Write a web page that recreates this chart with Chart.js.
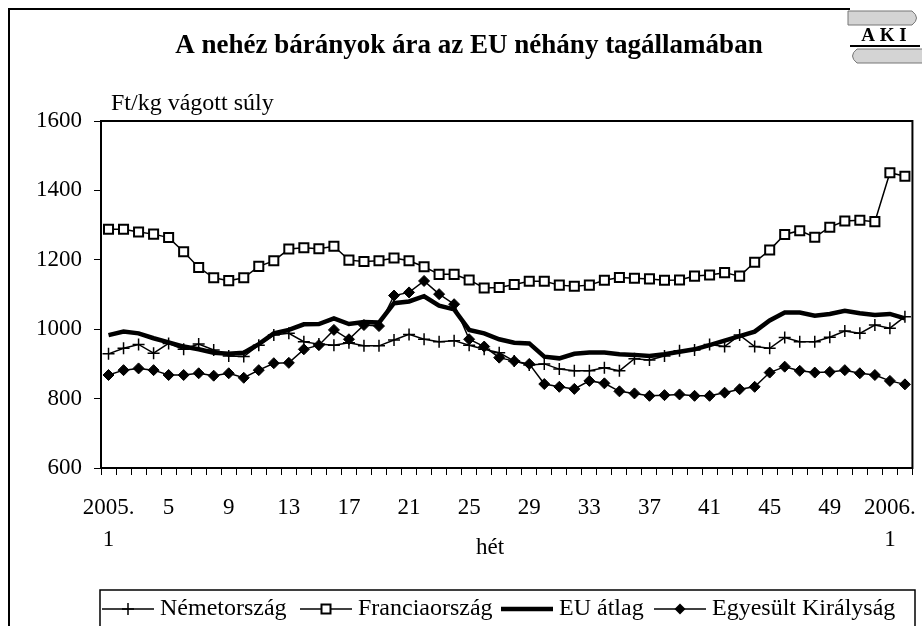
<!DOCTYPE html>
<html><head><meta charset="utf-8">
<script src="https://cdn.jsdelivr.net/npm/chart.js@4.4.0/dist/chart.umd.min.js"></script>
<style>html,body{margin:0;padding:0;background:#fff;}canvas{display:block;}</style>
</head><body>
<canvas id="c" width="922" height="626"></canvas>
<script>
const weeks = ['2005. 1','2','3','4','5','6','7','8','9','10','11','12','13','14','15','16','17','18','19','20',
  '21','22','23','24','25','26','27','28','29','30','31','32','33','34','35','36','37','38','39','40',
  '41','42','43','44','45','46','47','48','49','50','51','52','2006. 1','2'];
const nemetorszag = [929,945,956,931,959,942,957,940,923,921,954,983,988,964,957,954,961,952,952,969,
  985,971,964,967,954,942,932,908,897,900,885,880,880,889,880,915,911,923,938,940,
  956,950,983,950,945,976,964,964,977,995,988,1012,1003,1036];
const franciaorszag = [1288,1288,1280,1274,1264,1223,1178,1148,1140,1148,1181,1197,1231,1235,1232,1239,1199,1195,1197,1205,
  1197,1180,1158,1158,1142,1119,1120,1129,1138,1138,1127,1124,1127,1141,1149,1147,1145,1141,1142,1153,
  1156,1163,1153,1193,1228,1273,1284,1265,1294,1312,1314,1310,1451,1441];
const euAtlag = [983,993,988,974,962,950,942,932,929,932,957,988,998,1014,1015,1031,1015,1021,1019,1075,
  1080,1095,1068,1057,998,988,971,961,959,921,916,929,933,933,928,926,923,928,935,942,
  954,967,980,993,1025,1048,1048,1039,1044,1053,1046,1041,1044,1031];
const egyesultKiralysag = [868,882,887,882,868,868,873,866,873,860,882,902,903,942,954,998,971,1012,1009,1097,
  1106,1139,1101,1072,971,950,918,908,900,842,834,828,851,844,821,815,808,810,812,808,
  808,817,827,834,875,892,880,875,877,882,873,868,851,841];
const yTicks = [600,800,1000,1200,1400,1600];
const titleText = 'A nehéz bárányok ára az EU néhány tagállamában';
const yUnit = 'Ft/kg vágott súly';
const xTitle = 'hét';
const legendNames = ['Németország','Franciaország','EU átlag','Egyesült Királyság'];

const FONT = '"Liberation Serif", "Times New Roman", serif';

function marker(ctx, type, x, y) {
  ctx.save();
  ctx.strokeStyle = '#000';
  if (type === 'cross') {
    ctx.lineWidth = 1.5;
    ctx.beginPath();
    ctx.moveTo(x - 6, y); ctx.lineTo(x + 6, y);
    ctx.moveTo(x, y - 6); ctx.lineTo(x, y + 6);
    ctx.stroke();
  } else if (type === 'rect') {
    ctx.lineWidth = 2; ctx.fillStyle = '#fff';
    ctx.fillRect(x - 4.5, y - 4.5, 9, 9);
    ctx.strokeRect(x - 4.5, y - 4.5, 9, 9);
  } else if (type === 'rectRot') {
    ctx.fillStyle = '#000';
    ctx.beginPath();
    ctx.moveTo(x, y - 5.5); ctx.lineTo(x + 5.5, y); ctx.lineTo(x, y + 5.5); ctx.lineTo(x - 5.5, y);
    ctx.closePath(); ctx.fill();
  }
  ctx.restore();
}

const decor = {
  id: 'decor',
  beforeDraw(chart) {
    const ctx = chart.ctx;
    ctx.save(); ctx.fillStyle = '#fff'; ctx.fillRect(0, 0, chart.width, chart.height); ctx.restore();
  },
  afterDraw(chart) {
    const ctx = chart.ctx, a = chart.chartArea;
    ctx.save();
    ctx.strokeStyle = '#000';
    ctx.lineWidth = 2;
    ctx.beginPath(); ctx.moveTo(9, 640); ctx.lineTo(9, 9); ctx.lineTo(850, 9); ctx.stroke();
    ctx.lineWidth = 2;
    ctx.strokeRect(a.left, a.top, a.right - a.left, a.bottom - a.top);
    ctx.fillStyle = '#000';
    ctx.textBaseline = 'middle';
    ctx.textAlign = 'center';
    ctx.font = 'bold 27px ' + FONT;
    ctx.fillText(titleText, 469, 46);
    ctx.font = '24px ' + FONT;
    ctx.textAlign = 'left';
    ctx.fillText(yUnit, 111, 104);
    ctx.font = '23px ' + FONT;
    ctx.textAlign = 'center';
    ctx.fillText(xTitle, 490, 548);
    ctx.lineWidth = 1.5;
    ctx.strokeRect(100, 590, 815, 60);
    const items = [
      {x: 102, type: 'cross', w: 1.5},
      {x: 300, type: 'rect', w: 1.5},
      {x: 501, type: null, w: 4.5},
      {x: 654, type: 'rectRot', w: 1.5}
    ];
    const ly = 609;
    ctx.font = '24px ' + FONT;
    ctx.textAlign = 'left';
    items.forEach((it, i) => {
      ctx.lineWidth = it.w;
      ctx.beginPath(); ctx.moveTo(it.x, ly); ctx.lineTo(it.x + 52, ly); ctx.stroke();
      if (it.type) marker(ctx, it.type, it.x + 26, ly);
      ctx.fillText(legendNames[i], it.x + 58, ly);
    });
    ctx.lineWidth = 1;
    ctx.strokeStyle = '#777';
    ctx.fillStyle = '#d4d4d4';
    ctx.beginPath();
    ctx.moveTo(848, 11); ctx.lineTo(912, 11);
    ctx.quadraticCurveTo(921, 18, 912, 25); ctx.lineTo(848, 25); ctx.closePath();
    ctx.fill(); ctx.stroke();
    ctx.beginPath();
    ctx.moveTo(922, 49); ctx.lineTo(857, 49);
    ctx.quadraticCurveTo(848, 56, 857, 63); ctx.lineTo(922, 63);
    ctx.fill(); ctx.stroke();
    ctx.fillStyle = '#000';
    ctx.font = 'bold 19px ' + FONT;
    ctx.textAlign = 'center';
    ctx.fillText('A K I', 884, 36);
    ctx.strokeStyle = '#000'; ctx.lineWidth = 2;
    ctx.beginPath(); ctx.moveTo(850, 46); ctx.lineTo(920, 46); ctx.stroke();
    ctx.restore();
  }
};

new Chart(document.getElementById('c'), {
  type: 'line',
  data: {
    labels: weeks,
    datasets: [
      {label: legendNames[0], data: nemetorszag, borderColor: '#000', borderWidth: 1.5,
       pointStyle: 'cross', pointRadius: 6, pointBorderWidth: 1.5, pointBorderColor: '#000', pointBackgroundColor: '#000'},
      {label: legendNames[1], data: franciaorszag, borderColor: '#000', borderWidth: 1.5,
       pointStyle: 'rect', pointRadius: 6.4, pointBorderWidth: 2, pointBorderColor: '#000', pointBackgroundColor: '#fff'},
      {label: legendNames[2], data: euAtlag, borderColor: '#000', borderWidth: 4.5, pointRadius: 0},
      {label: legendNames[3], data: egyesultKiralysag, borderColor: '#000', borderWidth: 1.5,
       pointStyle: 'rectRot', pointRadius: 5.5, pointBorderWidth: 1, pointBorderColor: '#000', pointBackgroundColor: '#000'}
    ]
  },
  options: {
    responsive: false, animation: false, devicePixelRatio: 1,
    layout: {padding: {top: 121, right: 7, left: 0, bottom: 0}},
    plugins: {legend: {display: false}, title: {display: false}, tooltip: {enabled: false}},
    scales: {
      x: {
        type: 'category', offset: true,
        grid: {offset: true, drawOnChartArea: false, drawTicks: true, tickLength: 7, color: '#000', lineWidth: 1},
        border: {display: true, color: '#000', width: 2},
        ticks: {autoSkip: false, maxRotation: 0, minRotation: 0, padding: 17, color: '#000',
          font: {family: FONT, size: 23, lineHeight: 1.4},
          callback: (v, i) => (i % 4 === 0 ? weeks[i].split(' ') : '')},
        afterFit: (s) => { s.height = 158; }
      },
      y: {
        min: 600, max: 1600,
        afterBuildTicks: (s) => { s.ticks = yTicks.map(v => ({value: v})); },
        grid: {drawOnChartArea: false, drawTicks: true, tickLength: 7, color: '#000', lineWidth: 1},
        border: {display: true, color: '#000', width: 2},
        ticks: {padding: 12, color: '#000', font: {family: FONT, size: 23}, callback: (v) => String(v)},
        afterFit: (s) => { s.width = 101; }
      }
    }
  },
  plugins: [decor]
});
</script>
</body></html>
